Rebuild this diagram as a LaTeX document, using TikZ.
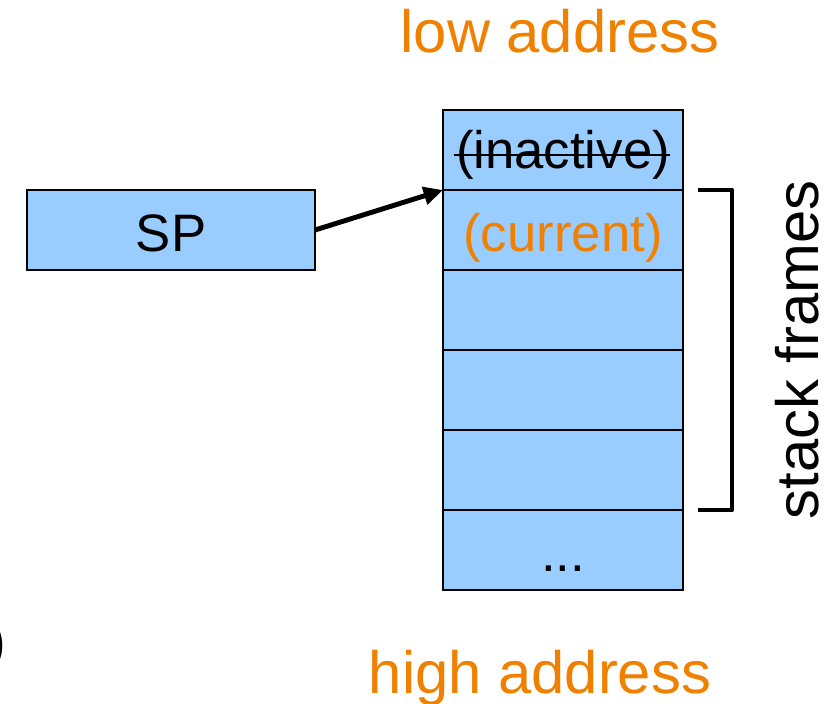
\documentclass[tikz,border=0pt]{standalone}
\usepackage{fontspec}
\setmainfont{Liberation Sans}
\usetikzlibrary{positioning}
\usetikzlibrary{arrows.meta}
\definecolor{cellblue}{RGB}{153,204,255}
\definecolor{addrorange}{RGB}{240,128,0}
\tikzset{
	every node/.style = {font=\fontsize{30pt}{36pt}\selectfont},
	cell/.style = {draw, fill=cellblue, line width=1.1pt, minimum width=4.8cm, minimum height=1.6cm,
		inner sep=0pt, outer sep=0pt, text height=31pt, text depth=6pt},
	addr/.style = {text=addrorange, font=\fontsize{34pt}{40pt}\selectfont},
	ptr/.style = {-{Triangle[length=11pt,width=10pt]}, line width=2.8pt}
}

\begin{document}
\begin{tikzpicture}
		\useasboundingbox (0,0) rectangle (16.66,-14.06);
		\node[addr, anchor=base] (low) at (11.2,-1.06) {low address};
		
		% the stack
		\node[cell] (c0) at (11.26,-3.0) {};
		\node[inner sep=0pt, yshift=-0.1cm] (inact) at (c0) {(inactive)};
		\draw[line width=1.4pt, shorten <=-1pt] (inact.west) -- (inact.east);
		\node[cell, below=0pt of c0] (c1) {\textcolor{addrorange}{(current)}};
		\foreach \i [remember=\i as \last (initially 1)] in {2,3,4}
			\node[cell, below=0pt of c\last] (c\i) {};
		\node[cell, below=0pt of c4] (c5) {...};
		
		\node[addr, anchor=base] (high) at (10.8,-13.86) {high address};
		
		% stack pointer
		\node[cell, minimum width=5.76cm, line width=0.8pt] (sp) at (3.42,-4.6) {SP};
		\draw[ptr] (sp.east) -- (c1.north west);
		
		% bracket
		\draw[line width=2.6pt, line join=round]
			([xshift=0.3cm]c1.north east) -- ([xshift=0.98cm]c1.north east)
			-- ([xshift=0.98cm]c4.south east) -- ([xshift=0.3cm]c4.south east);
		\node[rotate=90, anchor=base, font=\fontsize{34pt}{40pt}\selectfont] (frames) at (16.36,-7.0) {stack frames};
		
		\node[anchor=base east, inner sep=0pt, font=\fontsize{32pt}{38pt}\selectfont] (cut) at (0.14,-13.2) {)};
	\end{tikzpicture}
\end{document}
